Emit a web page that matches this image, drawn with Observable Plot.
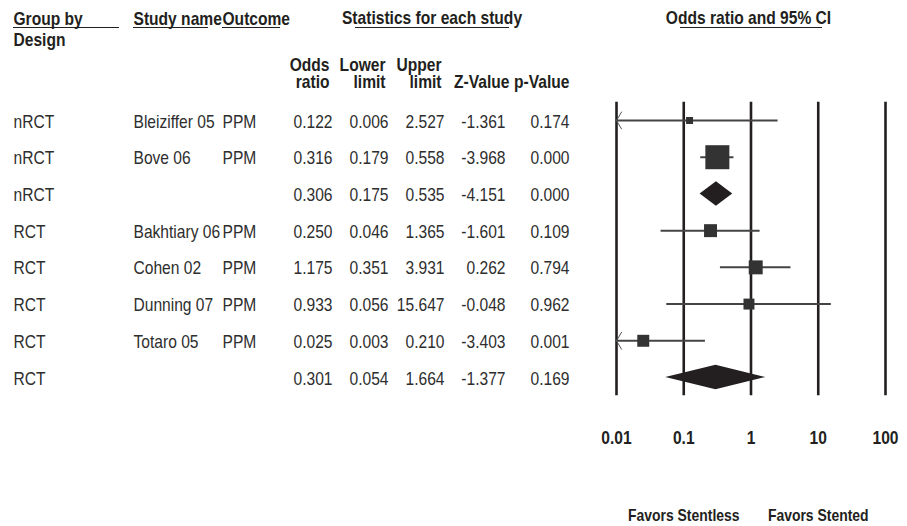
<!DOCTYPE html>
<html>
<head>
<meta charset="utf-8">
<script src="https://cdn.jsdelivr.net/npm/d3@7"></script>
<script src="https://cdn.jsdelivr.net/npm/@observablehq/plot@0.6"></script>
<style>
  html, body { margin: 0; padding: 0; background: #fff; }
  #chart svg { display: block; }
</style>
</head>
<body>
<div id="chart"></div>
<script>
// Forest plot: odds ratios of PPM, stentless vs stented valves, grouped by design
const designs    = ["nRCT", "nRCT", "nRCT", "RCT", "RCT", "RCT", "RCT", "RCT"];
const studies    = ["Bleiziffer 05", "Bove 06", "", "Bakhtiary 06", "Cohen 02", "Dunning 07", "Totaro 05", ""];
const outcomes   = ["PPM", "PPM", "", "PPM", "PPM", "PPM", "PPM", ""];
const oddsRatios = [0.122, 0.316, 0.306, 0.250, 1.175, 0.933, 0.025, 0.301];
const lowerLimits = [0.006, 0.179, 0.175, 0.046, 0.351, 0.056, 0.003, 0.054];
const upperLimits = [2.527, 0.558, 0.535, 1.365, 3.931, 15.647, 0.210, 1.664];
const zValues    = [-1.361, -3.968, -4.151, -1.601, 0.262, -0.048, -3.403, -1.377];
const pValues    = [0.174, 0.000, 0.000, 0.109, 0.794, 0.962, 0.001, 0.169];
// relative weight (%) within each design group; null marks a pooled (summary) row
const relWeights = [7.8, 92.2, null, 26.8, 31.1, 19.2, 22.9, null];
const axisTicks  = [0.01, 0.1, 1, 10, 100];
const favorsLabels = ["Favors Stentless", "Favors Stented"];

const FONT = "'Liberation Sans', Arial, Helvetica, sans-serif";
const NARROW = 0.82; // horizontal squeeze giving a narrow Helvetica look
const FS = 19;
const INK = "#231f20";
const TEXT = "#2e2e2e";
const X_MIN = 0.01, X_MAX = 100;

const rows = designs.map((design, i) => ({
  i, design,
  study: studies[i], outcome: outcomes[i],
  or: oddsRatios[i], lower: lowerLimits[i], upper: upperLimits[i],
  z: zValues[i], p: pValues[i],
  weight: relWeights[i], summary: relWeights[i] == null
}));
const studyRows = rows.filter(d => !d.summary);
const summaryRows = rows.filter(d => d.summary);

// pooled estimates as diamonds spanning the confidence interval
const halfH = 0.335;
const diamondPts = summaryRows.flatMap(d => [
  {i: d.i, y: d.i - halfH, x1: d.or, x2: d.or},
  {i: d.i, y: d.i, x1: d.lower, x2: d.upper},
  {i: d.i, y: d.i + halfH, x1: d.or, x2: d.or}
]);

// open arrowheads where an interval runs past the left edge of the axis
const headStep = Math.pow(10, 5 / 67);
const arrowPts = studyRows.filter(d => d.lower < X_MIN).flatMap(d => [
  {i: d.i, x: X_MIN * headStep, y: d.i - 0.23},
  {i: d.i, x: X_MIN, y: d.i},
  {i: d.i, x: X_MIN * headStep, y: d.i + 0.23}
]);

const fmt = v => v.toFixed(3);

// table column anchors (pixels from the left edge)
const col = {design: 13, study: 133, outcome: 222, or: 332, lower: 388, upper: 444, z: 505, p: 569};

const headerText = (label, dx, dy, anchor = "start") =>
  Plot.text([label], {frameAnchor: "top-left", dx, dy, textAnchor: anchor, lineAnchor: "middle",
    fontWeight: "bold", fill: INK, fontSize: FS});

// header underlines, drawn in screen space
const underlines = [[13, 119], [133, 208], [222, 280], [355, 509], [680, 822]];
const underlineMark = () => {
  const g = d3.create("svg:g");
  for (const [a, b] of underlines) {
    g.append("line").attr("x1", a).attr("x2", b).attr("y1", 27.5).attr("y2", 27.5)
      .attr("stroke", INK).attr("stroke-width", 1.2);
  }
  return g.node();
};

const rowText = (accessor, dx, anchor = "start") =>
  Plot.text(rows, {y: "i", text: accessor, frameAnchor: "left", dx, dy: 1,
    textAnchor: anchor, lineAnchor: "middle", fill: TEXT, fontSize: FS});

const chart = Plot.plot({
  width: 907,
  height: 526,
  margin: 0,
  style: {fontFamily: FONT, background: "#fff", overflow: "visible"},
  x: {type: "log", domain: [X_MIN, X_MAX], range: [616, 885], axis: null},
  y: {domain: [0, 7], range: [120, 377], axis: null},
  r: {type: "sqrt", domain: [0, 92.2], range: [0, 13.55]},
  marks: [
    // header block
    headerText("Group by", col.design, 18),
    headerText("Design", col.design, 39),
    headerText("Study name", col.study, 18),
    headerText("Outcome", col.outcome, 18),
    headerText("Statistics for each study", 431.5, 17, "middle"),
    headerText("Odds ratio and 95% CI", 748, 17, "middle"),
    headerText("Odds", 329, 64, "end"),
    headerText("ratio", 329, 81, "end"),
    headerText("Lower", 385, 64, "end"),
    headerText("limit", 385, 81, "end"),
    headerText("Upper", 441, 64, "end"),
    headerText("limit", 441, 81, "end"),
    headerText("Z-Value", 509, 81, "end"),
    headerText("p-Value", 569, 81, "end"),
    underlineMark,

    // table body
    rowText("design", col.design),
    rowText("study", col.study),
    rowText("outcome", col.outcome),
    rowText(d => fmt(d.or), col.or, "end"),
    rowText(d => fmt(d.lower), col.lower, "end"),
    rowText(d => fmt(d.upper), col.upper, "end"),
    rowText(d => fmt(d.z), col.z, "end"),
    rowText(d => fmt(d.p), col.p, "end"),

    // decade reference lines
    Plot.ruleX(axisTicks, {y1: -0.5, y2: 7.5, stroke: INK, strokeWidth: 2.6}),

    // confidence intervals, clipped to the axis
    Plot.ruleY(studyRows, {
      y: "i",
      x1: d => Math.max(d.lower, X_MIN),
      x2: d => Math.min(d.upper, X_MAX),
      stroke: "#444", strokeWidth: 2
    }),
    Plot.line(arrowPts, {x: "x", y: "y", z: "i", stroke: "#555", strokeWidth: 1}),

    // study estimates, box area proportional to weight
    Plot.dot(studyRows, {x: "or", y: "i", r: "weight", symbol: "square", fill: "#333", stroke: null}),

    // pooled estimates
    Plot.areaX(diamondPts, {y: "y", x1: "x1", x2: "x2", z: "i", fill: INK}),

    // axis labels and direction captions
    Plot.text(axisTicks, {x: d => d, text: d => String(d), frameAnchor: "top", dy: 437,
      lineAnchor: "middle", fontWeight: "bold", fill: INK, fontSize: FS}),
    Plot.text(favorsLabels, {x: (d, i) => (i === 0 ? 0.1 : 10), frameAnchor: "top", dy: 515,
      lineAnchor: "middle", fontWeight: "bold", fill: INK, fontSize: 17})
  ]
});

document.getElementById("chart").append(chart);

// squeeze every label horizontally, keeping its anchor
chart.querySelectorAll("text").forEach(t => {
  const w = t.getComputedTextLength();
  if (w > 0) {
    t.setAttribute("textLength", (w * NARROW).toFixed(2));
    t.setAttribute("lengthAdjust", "spacingAndGlyphs");
  }
});
</script>
</body>
</html>
